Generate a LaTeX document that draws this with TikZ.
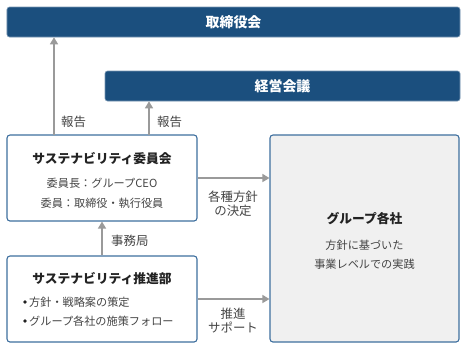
\documentclass[tikz,border=0pt]{standalone}
\usepackage{fontspec}
\setmainfont{Noto Sans CJK JP}
\usetikzlibrary{arrows.meta}
\definecolor{navy}{HTML}{1B4F7E}
\definecolor{boxline}{HTML}{3E6F9E}
\definecolor{arrgray}{HTML}{9A9A9A}
\definecolor{txtdark}{HTML}{222222}
\definecolor{txtmid}{HTML}{444444}
\definecolor{grayfill}{HTML}{F0F0F0}
\begin{document}
\begin{tikzpicture}[x=1bp,y=-1bp,
  topbox/.style={draw=navy!60, line width=0.6bp, fill=navy, rounded corners=2.5bp, text=white, font=\fontsize{14}{16}\selectfont\bfseries, inner sep=0pt},
  orgbox/.style={draw=boxline, line width=1.1bp, fill=white, rounded corners=3bp, inner sep=0pt},
  grpbox/.style={orgbox, fill=grayfill},
  ttl/.style={font=\fontsize{12.8}{15}\selectfont\bfseries, text=txtdark, inner sep=0pt},
  sub/.style={font=\fontsize{11.2}{13}\selectfont, text=txtmid, inner sep=0pt},
  dotb/.style={circle, fill=txtdark, inner sep=0pt, minimum size=3.8bp},
  lbl/.style={font=\fontsize{12.5}{15}\selectfont, text=txtmid, inner sep=0pt, align=center},
  arr/.style={draw=arrgray, line width=1.4bp, -{Triangle[width=8bp,length=7bp]}}
]
\useasboundingbox (0,0) rectangle (467,349);
\node[topbox, minimum width=453bp, minimum height=30bp] (board) at (233.5,22) {取締役会};
\node[topbox, minimum width=355bp, minimum height=30bp] (keiei) at (282.5,86) {経営会議};
\node[orgbox, minimum width=190bp, minimum height=86bp] (comm) at (102,178) {};
\node[orgbox, minimum width=190bp, minimum height=86bp] (prom) at (102,299) {};
\node[grpbox, minimum width=189bp, minimum height=207bp] (grp) at (364.5,238.5) {};
% committee texts
\node[ttl] (commt) at (102,159) {サステナビリティ委員会};
\node[sub] (comm1) at (102,183) {委員長：グループCEO};
\node[sub] (comm2) at (102,203) {委員：取締役・執行役員};
% promotion texts
\node[ttl] (promt) at (102,279) {サステナビリティ推進部};
\node[dotb] (b1) at (25,302) {};
\node[dotb] (b2) at (25,321) {};
\node[sub, anchor=west] (prom1) at (29,302) {方針・戦略案の策定};
\node[sub, anchor=west] (prom2) at (29,321) {グループ各社の施策フォロー};
% group texts
\node[ttl] (grpt) at (364.5,219) {グループ各社};
\node[sub] (grp1) at (364.5,245) {方針に基づいた};
\node[sub] (grp2) at (364.5,264) {事業レベルでの実践};
% arrows
\coordinate (r1) at (54,135);
\coordinate (r2) at (149,135);
\draw[arr] (r1) -- (r1 |- board.south);
\draw[arr] (r2) -- (r2 |- keiei.south);
\draw[arr] (prom.north) -- (comm.south);
\draw[arr] (comm.east) -- (grp.west |- comm.east);
\draw[arr] (prom.east) -- (grp.west |- prom.east);
% labels
\node[lbl, anchor=west] (l1) at (61,122) {報告};
\node[lbl, anchor=west] (l2) at (157,122) {報告};
\node[lbl, anchor=west] (l3) at (111,241) {事務局};
\node[lbl] (l4) at (233,204) {各種方針\\[-1bp]の決定};
\node[lbl] (l5) at (233,321) {推進\\[-1bp]サポート};
\end{tikzpicture}
\end{document}
